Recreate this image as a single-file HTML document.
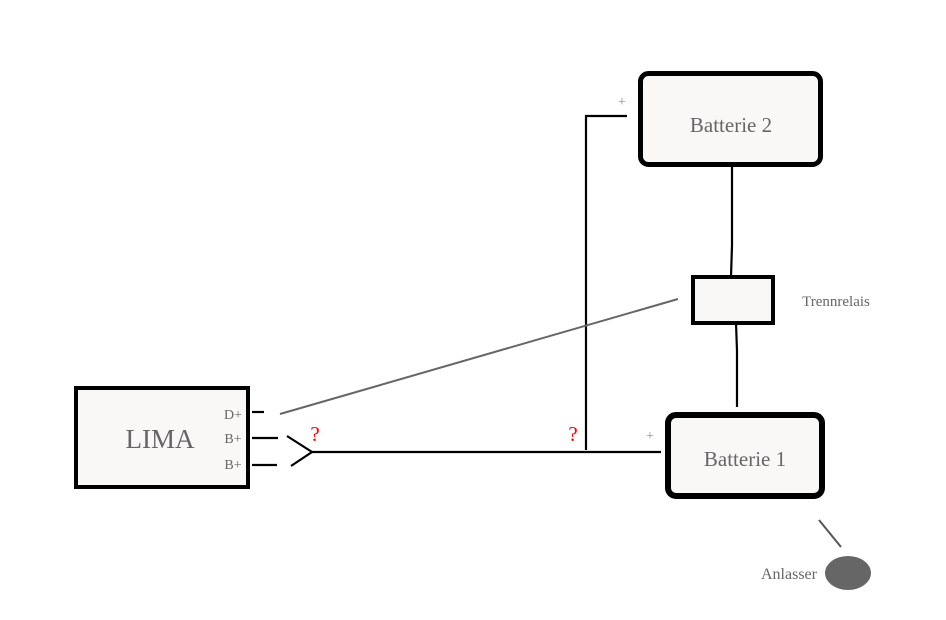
<!DOCTYPE html>
<html><head><meta charset="utf-8"><style>html,body{margin:0;padding:0;background:#fff}svg{display:block}</style></head>
<body>
<svg width="946" height="620" viewBox="0 0 946 620" xmlns="http://www.w3.org/2000/svg" font-family="Liberation Serif, serif">
<rect x="0" y="0" width="946" height="620" fill="#fff"/>
<!-- LIMA -->
<rect x="76" y="388" width="172" height="99" fill="#faf7f7" stroke="#000" stroke-width="4"/>
<text x="160" y="448" font-size="27" fill="#666" text-anchor="middle">LIMA</text>
<text x="233" y="419" font-size="14" fill="#666" text-anchor="middle">D+</text>
<text x="233" y="443" font-size="14" fill="#666" text-anchor="middle">B+</text>
<text x="233" y="469" font-size="14" fill="#666" text-anchor="middle">B+</text>
<g stroke="#000" stroke-width="2.2" fill="none">
<line x1="252" y1="412" x2="264" y2="412"/>
<line x1="252" y1="438" x2="278" y2="438"/>
<line x1="252" y1="465" x2="277" y2="465"/>
<polyline points="287,436 312,452 291,466"/>
<line x1="312" y1="452" x2="661" y2="452"/>
<polyline points="586,450 586,116 627,116"/>
<polyline points="732,167 732,245 731,277"/>
<polyline points="736,323 737,351 737,407"/>
</g>
<line x1="280" y1="414" x2="678" y2="299" stroke="#666" stroke-width="2"/>
<!-- Batterie 2 -->
<rect x="640.5" y="73.5" width="180" height="91" rx="8" fill="#faf7f7" stroke="#000" stroke-width="5"/>
<text x="731" y="132" font-size="21" fill="#666" text-anchor="middle">Batterie 2</text>
<!-- Relais -->
<rect x="693" y="277" width="80" height="46" fill="#faf7f7" stroke="#000" stroke-width="4"/>
<text x="836" y="306" font-size="15" fill="#666" text-anchor="middle">Trennrelais</text>
<!-- Batterie 1 -->
<rect x="668" y="415" width="154" height="81" rx="8" fill="#faf7f7" stroke="#000" stroke-width="6"/>
<text x="745" y="466" font-size="21" fill="#666" text-anchor="middle">Batterie 1</text>
<!-- labels -->
<text x="622" y="106" font-size="14" fill="#888" text-anchor="middle">+</text>
<text x="650" y="440" font-size="14" fill="#888" text-anchor="middle">+</text>
<text x="315" y="441" font-size="21" fill="#f00" text-anchor="middle">?</text>
<text x="573" y="441" font-size="21" fill="#f00" text-anchor="middle">?</text>
<!-- Anlasser -->
<line x1="819" y1="520" x2="841" y2="547" stroke="#555" stroke-width="2"/>
<ellipse cx="848" cy="573" rx="23" ry="17" fill="#666"/>
<text x="789" y="579" font-size="16" fill="#666" text-anchor="middle">Anlasser</text>
</svg>
</body></html>
